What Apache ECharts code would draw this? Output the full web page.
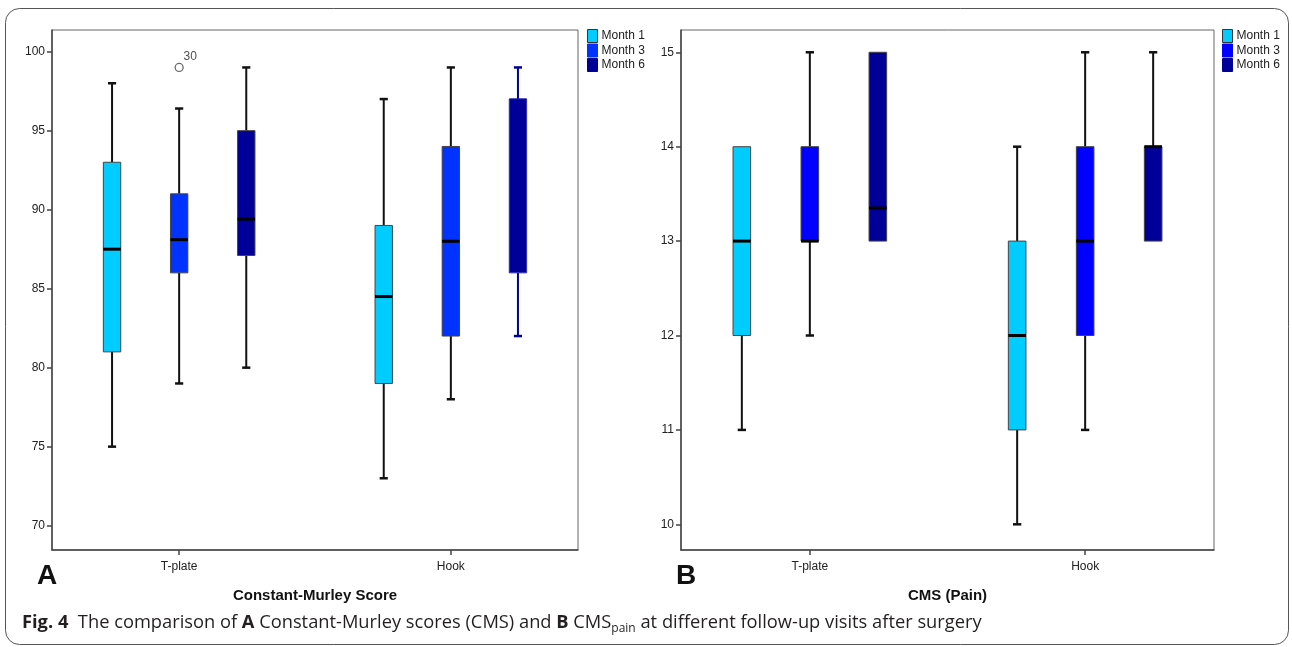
<!DOCTYPE html>
<html>
<head>
<meta charset="utf-8">
<script src="https://cdn.jsdelivr.net/npm/echarts@6/dist/echarts.min.js"></script>
<style>
html,body{margin:0;padding:0;background:#fff;}
#chart{width:1292px;height:647px;}
</style>
</head>
<body>
<div id="chart"></div>
<script>
// ---------- data ----------
const categories = ['T-plate', 'Hook'];
const months = ['Month 1', 'Month 3', 'Month 6'];
// each item: [low whisker, Q1, median, Q3, high whisker], one per category
const cmsMonth1 = [[75, 81, 87.5, 93, 98], [73, 79, 84.5, 89, 97]];
const cmsMonth3 = [[79, 86, 88.1, 91, 96.4], [78, 82, 88, 94, 99]];
const cmsMonth6 = [[80, 87.1, 89.4, 95, 99], [82, 86, 97, 97, 99]];
const cmsOutlier = [[0, 99, '30']]; // [category index, value, case id]
const painMonth1 = [[11, 12, 13, 14, 14], [10, 11, 12, 13, 14]];
const painMonth3 = [[12, 13, 13, 14, 15], [11, 12, 13, 14, 15]];
const painMonth6 = [[13, 13, 13.35, 15, 15], [13, 13, 14, 14, 15]];
const cmsTicks = [70, 75, 80, 85, 90, 95, 100];
const painTicks = [10, 11, 12, 13, 14, 15];
const catTicks = [0, 1];

// ---------- styles ----------
const FONT = "'Liberation Sans', Arial, sans-serif";
const CAP_FONT = "'Open Sans', 'Noto Sans', sans-serif";
const leftColors = ['#00CCFF', '#0033FF', '#000099'];
const rightColors = ['#00CCFF', '#0000FF', '#000099'];
const offsets = [-0.247, 0, 0.247];
const BOX_W = 0.064;
const CAP_W = 0.03;

function toItems(arr) {
  return arr.map((d, i) => [i].concat(d));
}

function makeRender(offset, fill, plain) {
  return function (params, api) {
    const c = api.value(0) + offset;
    const low = api.value(1), q1 = api.value(2), med = api.value(3), q3 = api.value(4), high = api.value(5);
    const isPlain = plain && plain[params.dataIndex];
    const wColor = isPlain ? fill : '#111';
    const mColor = isPlain ? fill : '#000';
    const bColor = isPlain ? '#3333aa' : '#444';
    const pLow = api.coord([c, low]);
    const pQ1 = api.coord([c, q1]);
    const pMed = api.coord([c, med]);
    const pQ3 = api.coord([c, q3]);
    const pHigh = api.coord([c, high]);
    const half = api.size([BOX_W, 0])[0] / 2;
    const capHalf = api.size([CAP_W, 0])[0] / 2;
    const x = pQ1[0];
    const children = [];
    if (high > q3) {
      children.push({type: 'line', shape: {x1: x, y1: pQ3[1], x2: x, y2: pHigh[1]}, style: {stroke: wColor, lineWidth: 2}});
      children.push({type: 'line', shape: {x1: x - capHalf, y1: pHigh[1], x2: x + capHalf, y2: pHigh[1]}, style: {stroke: wColor, lineWidth: 2.5}});
    }
    if (low < q1) {
      children.push({type: 'line', shape: {x1: x, y1: pQ1[1], x2: x, y2: pLow[1]}, style: {stroke: wColor, lineWidth: 2}});
      children.push({type: 'line', shape: {x1: x - capHalf, y1: pLow[1], x2: x + capHalf, y2: pLow[1]}, style: {stroke: wColor, lineWidth: 2.5}});
    }
    children.push({type: 'rect', shape: {x: x - half, y: pQ3[1], width: half * 2, height: pQ1[1] - pQ3[1]},
      style: {fill: fill, stroke: bColor, lineWidth: 1}});
    children.push({type: 'line', shape: {x1: x - half, y1: pMed[1], x2: x + half, y2: pMed[1]}, style: {stroke: mColor, lineWidth: isPlain ? 1 : 3}});
    return {type: 'group', children: children};
  };
}

const leftData = [cmsMonth1, cmsMonth3, cmsMonth6];
const rightData = [painMonth1, painMonth3, painMonth6];
const plainLeft = [null, null, {1: true}];

const series = [];
leftData.forEach((d, i) => {
  series.push({
    type: 'custom', name: months[i], xAxisIndex: 0, yAxisIndex: 0,
    itemStyle: {color: leftColors[i]},
    renderItem: makeRender(offsets[i], leftColors[i], plainLeft[i]),
    encode: {x: 0, y: [1, 2, 3, 4, 5]},
    data: toItems(d), z: 3
  });
});
rightData.forEach((d, i) => {
  series.push({
    type: 'custom', name: months[i], xAxisIndex: 1, yAxisIndex: 1,
    itemStyle: {color: rightColors[i]},
    renderItem: makeRender(offsets[i], rightColors[i], null),
    encode: {x: 0, y: [1, 2, 3, 4, 5]},
    data: toItems(d), z: 3
  });
});
series.push({
  type: 'scatter', name: 'Outlier', xAxisIndex: 0, yAxisIndex: 0,
  symbol: 'circle', symbolSize: 8,
  itemStyle: {color: '#fff', borderColor: '#444', borderWidth: 1.3},
  label: {show: true, position: [9, -12], formatter: p => p.data[2], fontFamily: FONT, fontSize: 12, color: '#222'},
  data: cmsOutlier, z: 4
});

function xAxisCfg(gridIndex, name) {
  return {
    type: 'value', gridIndex: gridIndex, min: -0.468, max: 1.468,
    splitLine: {show: false},
    axisLine: {show: true, onZero: false, lineStyle: {color: '#444', width: 1.5}},
    axisTick: {show: true, length: 5, customValues: catTicks, lineStyle: {color: '#444', width: 1.5}},
    axisLabel: {customValues: catTicks, formatter: v => categories[Math.round(v)], margin: 11,
      fontFamily: FONT, fontSize: 12, color: '#222'},
    name: name, nameLocation: 'middle', nameGap: 38,
    nameTextStyle: {fontFamily: FONT, fontSize: 15, fontWeight: 'bold', color: '#111'}
  };
}
function yAxisCfg(gridIndex, min, max, ticks) {
  return {
    type: 'value', gridIndex: gridIndex, min: min, max: max,
    splitLine: {show: false},
    axisLine: {show: true, onZero: false, lineStyle: {color: '#444', width: 1.5}},
    axisTick: {show: true, length: 5, customValues: ticks, lineStyle: {color: '#444', width: 1.5}},
    axisLabel: {customValues: ticks, margin: 7, fontFamily: FONT, fontSize: 12, color: '#222'}
  };
}
function legendCfg(left, colors) {
  return {
    orient: 'vertical', left: left, top: 24, icon: 'rect', itemWidth: 10, itemHeight: 13, itemGap: 0.5,
    selectedMode: false,
    textStyle: {fontFamily: FONT, fontSize: 12, color: '#222', padding: [0, 0, 0, -1]},
    data: months.map((m, i) => ({name: m, itemStyle: {color: colors[i], borderColor: i === 0 ? '#333' : colors[i], borderWidth: 1}}))
  };
}

const option = {
  backgroundColor: '#fff',
  animation: false,
  grid: [
    {left: 52, top: 30, width: 526, height: 520, show: true, borderColor: '#666', borderWidth: 1},
    {left: 681, top: 30, width: 533, height: 520, show: true, borderColor: '#666', borderWidth: 1}
  ],
  xAxis: [xAxisCfg(0, 'Constant-Murley Score'), xAxisCfg(1, 'CMS (Pain)')],
  yAxis: [yAxisCfg(0, 68.46, 101.37, cmsTicks), yAxisCfg(1, 9.728, 15.236, painTicks)],
  legend: [legendCfg(582, leftColors), legendCfg(1217, rightColors)],
  series: series,
  graphic: [
    {type: 'rect', shape: {x: 5.5, y: 8.5, width: 1283, height: 636, r: 14}, style: {fill: 'none', stroke: '#555', lineWidth: 1}, z: -1},
    {type: 'text', left: 37, top: 562, style: {text: 'A', fontFamily: FONT, fontSize: 28, fontWeight: 'bold', fill: '#111'}},
    {type: 'text', left: 676, top: 562, style: {text: 'B', fontFamily: FONT, fontSize: 28, fontWeight: 'bold', fill: '#111'}},
    {type: 'text', left: 22, top: 614, style: {
      text: '{b|Fig. 4}{n|  The comparison of }{b|A}{n| Constant-Murley scores (CMS) and }{b|B}{n| CMS}{s|pain}{n| at different follow-up visits after surgery}',
      rich: {
        b: {fontFamily: CAP_FONT, fontSize: 18.3, fontWeight: 'bold', fill: '#231f20', lineHeight: 24, verticalAlign: 'middle'},
        n: {fontFamily: CAP_FONT, fontSize: 18.3, fill: '#231f20', lineHeight: 24, verticalAlign: 'middle'},
        s: {fontFamily: CAP_FONT, fontSize: 12, fill: '#231f20', lineHeight: 13, verticalAlign: 'bottom'}
      }
    }}
  ]
};

const chart = echarts.init(document.getElementById('chart'), null, {renderer: 'canvas'});
chart.setOption(option);
</script>
</body>
</html>
